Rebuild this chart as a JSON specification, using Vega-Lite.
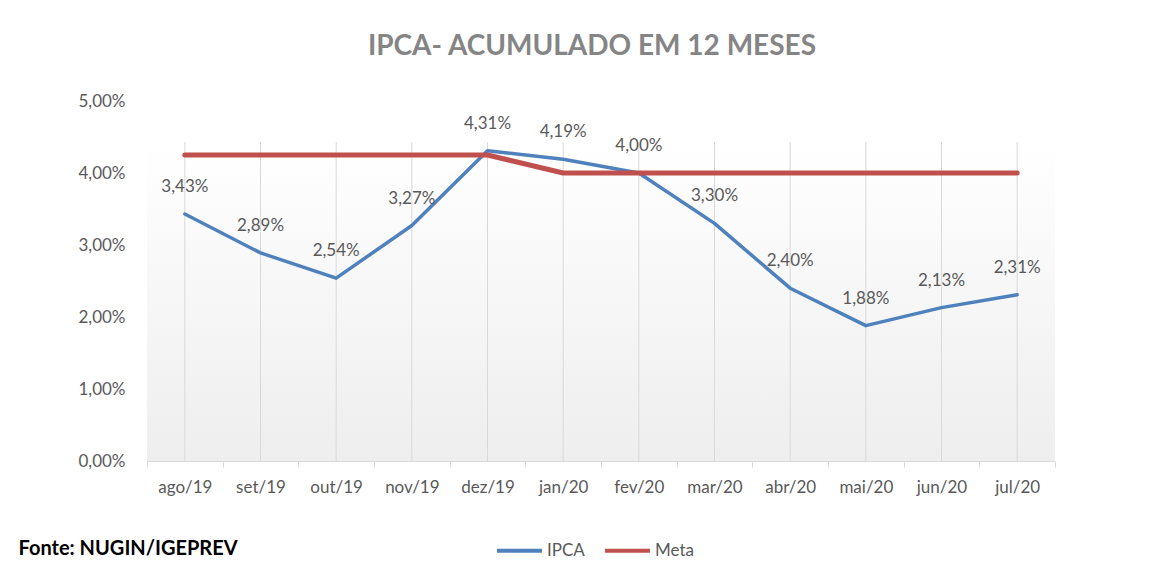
{
  "$schema": "https://vega.github.io/schema/vega-lite/v6.json",
  "autosize": {"type": "none"},
  "width": 908,
  "height": 360,
  "padding": {"left": 147, "top": 101, "right": 121, "bottom": 117},
  "background": "#ffffff",
  "title": {
    "text": "IPCA- ACUMULADO EM 12 MESES",
    "font": "Lato",
    "fontSize": 28,
    "fontWeight": "bold",
    "color": "#858585",
    "anchor": "middle",
    "offset": 31,
    "dx": -9
  },
  "datasets": {
    "serie": [
      {"mes": "ago/19", "serie": "IPCA", "valor": 0.0343},
      {"mes": "set/19", "serie": "IPCA", "valor": 0.0289},
      {"mes": "out/19", "serie": "IPCA", "valor": 0.0254},
      {"mes": "nov/19", "serie": "IPCA", "valor": 0.0327},
      {"mes": "dez/19", "serie": "IPCA", "valor": 0.0431},
      {"mes": "jan/20", "serie": "IPCA", "valor": 0.0419},
      {"mes": "fev/20", "serie": "IPCA", "valor": 0.0400},
      {"mes": "mar/20", "serie": "IPCA", "valor": 0.0330},
      {"mes": "abr/20", "serie": "IPCA", "valor": 0.0240},
      {"mes": "mai/20", "serie": "IPCA", "valor": 0.0188},
      {"mes": "jun/20", "serie": "IPCA", "valor": 0.0213},
      {"mes": "jul/20", "serie": "IPCA", "valor": 0.0231},
      {"mes": "ago/19", "serie": "Meta", "valor": 0.0425},
      {"mes": "set/19", "serie": "Meta", "valor": 0.0425},
      {"mes": "out/19", "serie": "Meta", "valor": 0.0425},
      {"mes": "nov/19", "serie": "Meta", "valor": 0.0425},
      {"mes": "dez/19", "serie": "Meta", "valor": 0.0425},
      {"mes": "jan/20", "serie": "Meta", "valor": 0.0400},
      {"mes": "fev/20", "serie": "Meta", "valor": 0.0400},
      {"mes": "mar/20", "serie": "Meta", "valor": 0.0400},
      {"mes": "abr/20", "serie": "Meta", "valor": 0.0400},
      {"mes": "mai/20", "serie": "Meta", "valor": 0.0400},
      {"mes": "jun/20", "serie": "Meta", "valor": 0.0400},
      {"mes": "jul/20", "serie": "Meta", "valor": 0.0400}
    ],
    "fundo": [{"area": "plot"}]
  },
  "layer": [
    {
      "data": {"name": "fundo"},
      "mark": {
        "type": "rect",
        "fill": {
          "gradient": "linear",
          "x1": 0, "y1": 0, "x2": 0, "y2": 1,
          "stops": [
            {"offset": 0, "color": "#ffffff"},
            {"offset": 1, "color": "#eeeeee"}
          ]
        }
      },
      "encoding": {
        "y": {"datum": 0.0443, "type": "quantitative", "scale": {"domain": [0, 0.05], "nice": false}},
        "y2": {"datum": 0}
      }
    },
    {
      "data": {"name": "serie"},
      "transform": [{"filter": "datum.serie === 'IPCA'"}],
      "mark": {"type": "rule", "color": "#d9d9d9", "strokeWidth": 1},
      "encoding": {
        "x": {
          "field": "mes",
          "type": "nominal",
          "scale": {
            "domain": ["ago/19", "set/19", "out/19", "nov/19", "dez/19", "jan/20", "fev/20", "mar/20", "abr/20", "mai/20", "jun/20", "jul/20"],
            "paddingInner": 0,
            "paddingOuter": 0
          },
          "axis": {
            "title": "Fonte: NUGIN/IGEPREV",
            "titleAnchor": "start",
            "titleAlign": "left",
            "titleBaseline": "middle",
            "titleX": -129,
            "titleY": 87,
            "titleFont": "Lato",
            "titleFontSize": 20,
            "titleFontWeight": "bold",
            "titleColor": "#000000",
            "labelAngle": 0,
            "labelFont": "Lato",
            "labelFontSize": 17,
            "labelColor": "#595959",
            "labelPadding": 12,
            "tickBand": "extent",
            "tickSize": 6,
            "tickColor": "#d9d9d9",
            "domainColor": "#d9d9d9",
            "grid": false
          }
        },
        "y": {
          "datum": 0,
          "type": "quantitative",
          "axis": {
            "title": null,
            "values": [0, 0.01, 0.02, 0.03, 0.04, 0.05],
            "format": ".2%",
            "labelFont": "Lato",
            "labelFontSize": 17,
            "labelColor": "#595959",
            "labelPadding": 22,
            "ticks": false,
            "tickSize": 0,
            "domain": false,
            "grid": false
          }
        },
        "y2": {"datum": 0.0443}
      }
    },
    {
      "data": {"name": "serie"},
      "transform": [{"filter": "datum.serie === 'IPCA'"}],
      "mark": {"type": "line", "strokeWidth": 3.5, "strokeCap": "round", "strokeJoin": "round"},
      "encoding": {
        "x": {"field": "mes", "type": "nominal"},
        "y": {"field": "valor", "type": "quantitative"},
        "color": {
          "field": "serie",
          "type": "nominal",
          "scale": {"domain": ["IPCA", "Meta"], "range": ["#4f81bd", "#c0504d"]},
          "legend": {
            "title": null,
            "orient": "none",
            "direction": "horizontal",
            "legendX": 348,
            "legendY": 425,
            "symbolType": "stroke",
            "symbolSize": 2025,
            "symbolStrokeWidth": 4,
            "labelFont": "Lato",
            "labelFontSize": 17,
            "labelColor": "#595959",
            "labelOffset": 3,
            "columnPadding": 12
          }
        }
      }
    },
    {
      "data": {"name": "serie"},
      "transform": [{"filter": "datum.serie === 'Meta'"}],
      "mark": {"type": "line", "strokeWidth": 5, "strokeCap": "round", "strokeJoin": "round"},
      "encoding": {
        "x": {"field": "mes", "type": "nominal"},
        "y": {"field": "valor", "type": "quantitative"},
        "color": {"field": "serie", "type": "nominal"}
      }
    },
    {
      "data": {"name": "serie"},
      "transform": [{"filter": "datum.serie === 'IPCA'"}],
      "mark": {"type": "text", "font": "Lato", "fontSize": 17, "color": "#595959", "dy": -27},
      "encoding": {
        "x": {"field": "mes", "type": "nominal"},
        "y": {"field": "valor", "type": "quantitative"},
        "text": {"field": "valor", "type": "quantitative", "format": ".2%"}
      }
    }
  ],
  "config": {
    "locale": {
      "number": {"decimal": ",", "thousands": ".", "grouping": [3], "currency": ["R$", ""]}
    },
    "view": {"stroke": null}
  }
}
